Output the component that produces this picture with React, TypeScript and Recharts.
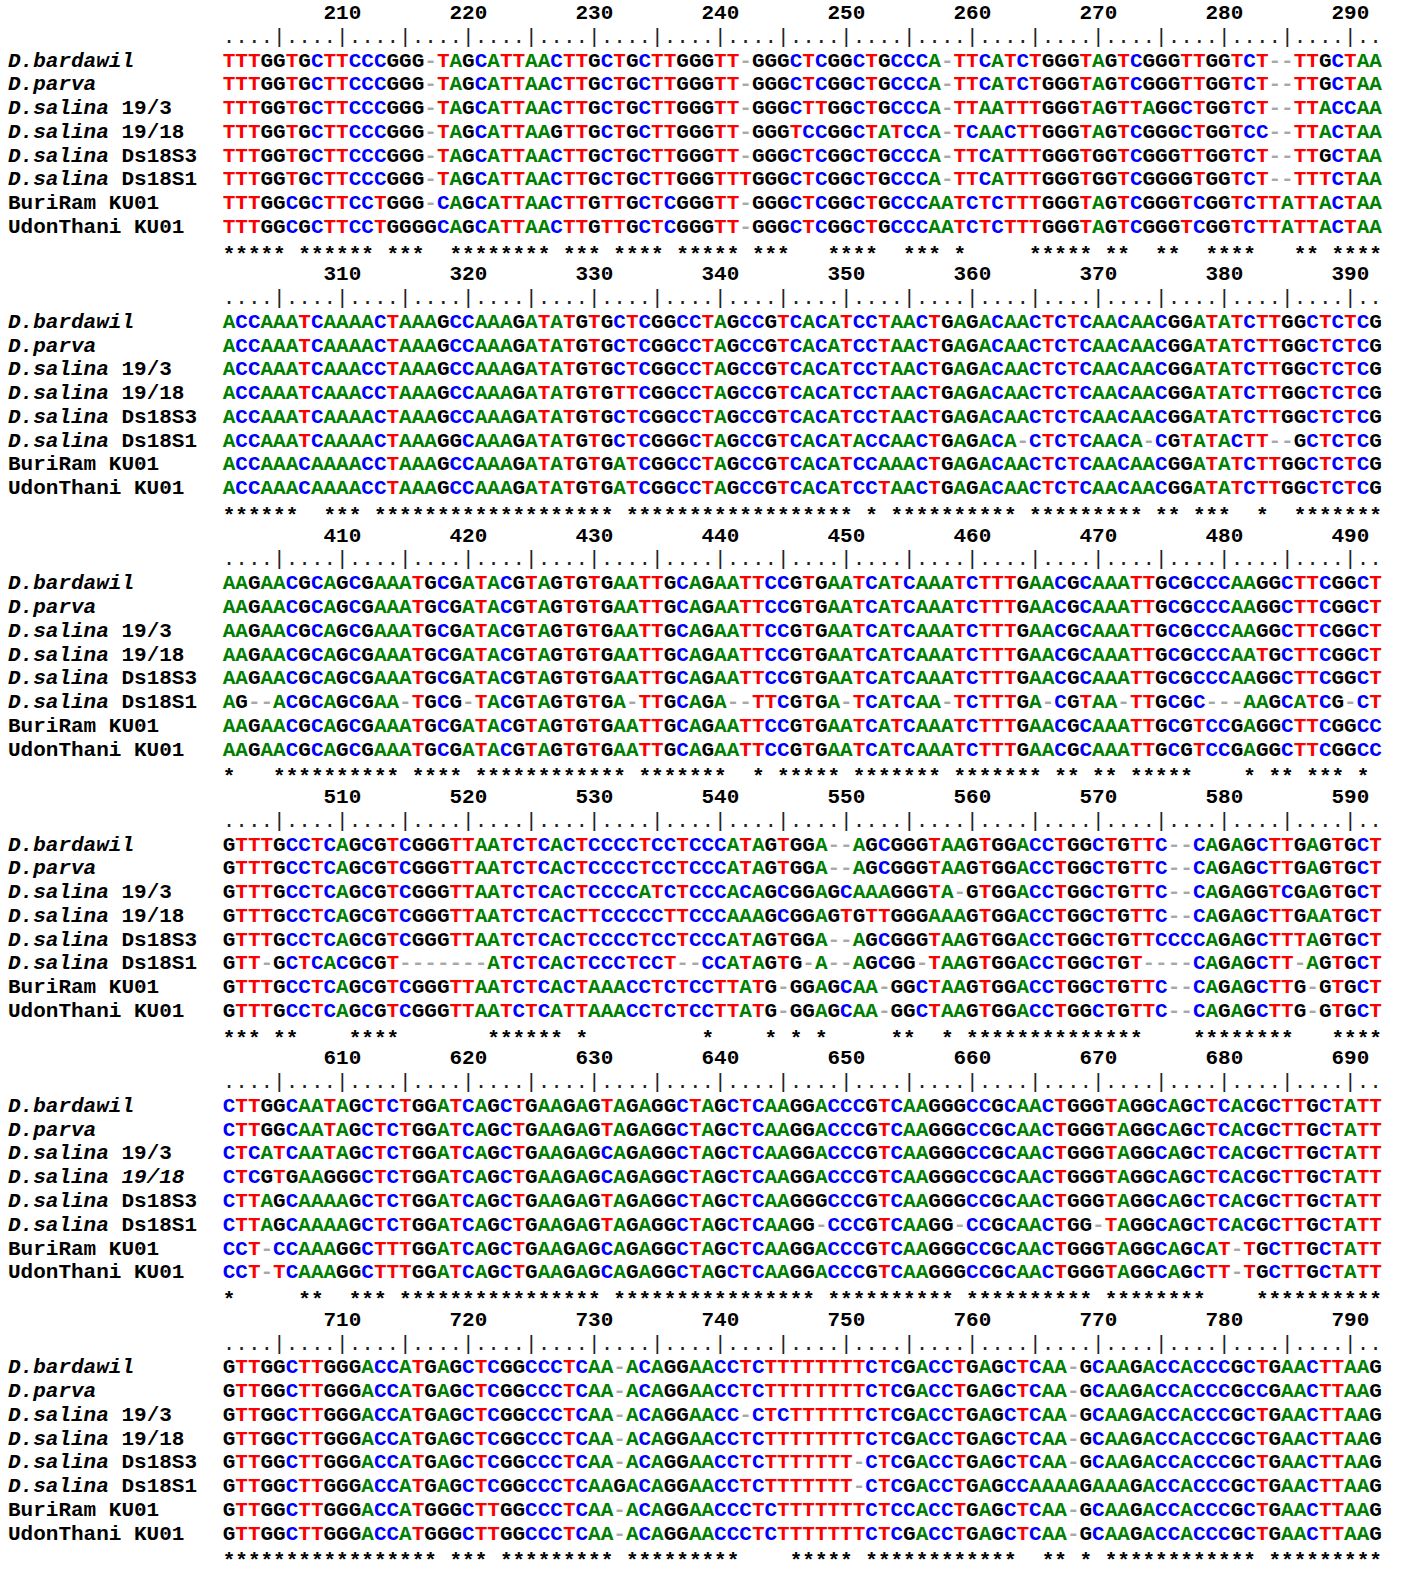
import React from "react";
import { ScatterChart, Scatter, XAxis, YAxis } from "recharts";

// ---------- data ----------
const SPECIES = [
  "D.bardawil",
  "D.parva",
  "D.salina 19/3",
  "D.salina 19/18",
  "D.salina Ds18S3",
  "D.salina Ds18S1",
  "BuriRam KU01",
  "UdonThani KU01",
];
// number of leading characters of each label drawn in italics
const ITALIC_CHARS = [10, 7, 8, 8, 8, 8, 0, 0];
// [block, row] labels drawn fully in italics
const FULL_ITALIC = [[4, 3]];

const BLOCK_OFFSETS = [200, 300, 400, 500, 600, 700];
const TICK_COLUMNS = [10, 20, 30, 40, 50, 60, 70, 80, 90];
const RULER =
  "....|....|....|....|....|....|....|....|....|....|....|....|....|....|....|....|....|....|..";

const BLOCK_201 = [
  "TTTGGTGCTTCCCGGG-TAGCATTAACTTGCTGCTTGGGTT-GGGC" + "TCGGCTGCCCA-TTCATCTGGGTAGTCGGGTTGGTCT--TTGCTAA",
  "TTTGGTGCTTCCCGGG-TAGCATTAACTTGCTGCTTGGGTT-GGGC" + "TCGGCTGCCCA-TTCATCTGGGTAGTCGGGTTGGTCT--TTGCTAA",
  "TTTGGTGCTTCCCGGG-TAGCATTAACTTGCTGCTTGGGTT-GGGC" + "TTGGCTGCCCA-TTAATTTGGGTAGTTAGGCTGGTCT--TTACCAA",
  "TTTGGTGCTTCCCGGG-TAGCATTAAGTTGCTGCTTGGGTT-GGGT" + "CCGGCTATCCA-TCAACTTGGGTAGTCGGGCTGGTCC--TTACTAA",
  "TTTGGTGCTTCCCGGG-TAGCATTAACTTGCTGCTTGGGTT-GGGC" + "TCGGCTGCCCA-TTCATTTGGGTGGTCGGGTTGGTCT--TTGCTAA",
  "TTTGGTGCTTCCCGGG-TAGCATTAACTTGCTGCTTGGGTTTGGGC" + "TCGGCTGCCCA-TTCATTTGGGTGGTCGGGGTGGTCT--TTTCTAA",
  "TTTGGCGCTTCCTGGG-CAGCATTAACTTGTTGCTCGGGTT-GGGC" + "TCGGCTGCCCAATCTCTTTGGGTAGTCGGGTCGGTCTTATTACTAA",
  "TTTGGCGCTTCCTGGGGCAGCATTAACTTGTTGCTCGGGTT-GGGC" + "TCGGCTGCCCAATCTCTTTGGGTAGTCGGGTCGGTCTTATTACTAA",
];

const BLOCK_301 = [
  "ACCAAATCAAAACTAAAGCCAAAGATATGTGCTCGGCCTAGCCGTC" + "ACATCCTAACTGAGACAACTCTCAACAACGGATATCTTGGCTCTCG",
  "ACCAAATCAAAACTAAAGCCAAAGATATGTGCTCGGCCTAGCCGTC" + "ACATCCTAACTGAGACAACTCTCAACAACGGATATCTTGGCTCTCG",
  "ACCAAATCAAACCTAAAGCCAAAGATATGTGCTCGGCCTAGCCGTC" + "ACATCCTAACTGAGACAACTCTCAACAACGGATATCTTGGCTCTCG",
  "ACCAAATCAAACCTAAAGCCAAAGATATGTGTTCGGCCTAGCCGTC" + "ACATCCTAACTGAGACAACTCTCAACAACGGATATCTTGGCTCTCG",
  "ACCAAATCAAAACTAAAGCCAAAGATATGTGCTCGGCCTAGCCGTC" + "ACATCCTAACTGAGACAACTCTCAACAACGGATATCTTGGCTCTCG",
  "ACCAAATCAAAACTAAAGGCAAAGATATGTGCTCGGGCTAGCCGTC" + "ACATACCAACTGAGACA-CTCTCAACA-CGTATACTT--GCTCTCG",
  "ACCAAACAAAACCTAAAGCCAAAGATATGTGATCGGCCTAGCCGTC" + "ACATCCAAACTGAGACAACTCTCAACAACGGATATCTTGGCTCTCG",
  "ACCAAACAAAACCTAAAGCCAAAGATATGTGATCGGCCTAGCCGTC" + "ACATCCTAACTGAGACAACTCTCAACAACGGATATCTTGGCTCTCG",
];

const BLOCK_401 = [
  "AAGAACGCAGCGAAATGCGATACGTAGTGTGAATTGCAGAATTCCG" + "TGAATCATCAAATCTTTGAACGCAAATTGCGCCCAAGGCTTCGGCT",
  "AAGAACGCAGCGAAATGCGATACGTAGTGTGAATTGCAGAATTCCG" + "TGAATCATCAAATCTTTGAACGCAAATTGCGCCCAAGGCTTCGGCT",
  "AAGAACGCAGCGAAATGCGATACGTAGTGTGAATTGCAGAATTCCG" + "TGAATCATCAAATCTTTGAACGCAAATTGCGCCCAAGGCTTCGGCT",
  "AAGAACGCAGCGAAATGCGATACGTAGTGTGAATTGCAGAATTCCG" + "TGAATCATCAAATCTTTGAACGCAAATTGCGCCCAATGCTTCGGCT",
  "AAGAACGCAGCGAAATGCGATACGTAGTGTGAATTGCAGAATTCCG" + "TGAATCATCAAATCTTTGAACGCAAATTGCGCCCAAGGCTTCGGCT",
  "AG--ACGCAGCGAA-TGCG-TACGTAGTGTGA-TTGCAGA--TTCG" + "TGA-TCATCAA-TCTTTGA-CGTAA-TTGCGC---AAGCATCG-CT",
  "AAGAACGCAGCGAAATGCGATACGTAGTGTGAATTGCAGAATTCCG" + "TGAATCATCAAATCTTTGAACGCAAATTGCGTCCGAGGCTTCGGCC",
  "AAGAACGCAGCGAAATGCGATACGTAGTGTGAATTGCAGAATTCCG" + "TGAATCATCAAATCTTTGAACGCAAATTGCGTCCGAGGCTTCGGCC",
];

const BLOCK_501 = [
  "GTTTGCCTCAGCGTCGGGTTAATCTCACTCCCCTCCTCCCATAGTG" + "GA--AGCGGGTAAGTGGACCTGGCTGTTC--CAGAGCTTGAGTGCT",
  "GTTTGCCTCAGCGTCGGGTTAATCTCACTCCCCTCCTCCCATAGTG" + "GA--AGCGGGTAAGTGGACCTGGCTGTTC--CAGAGCTTGAGTGCT",
  "GTTTGCCTCAGCGTCGGGTTAATCTCACTCCCCATCTCCCACAGCG" + "GAGCAAAGGGTA-GTGGACCTGGCTGTTC--CAGAGGTCGAGTGCT",
  "GTTTGCCTCAGCGTCGGGTTAATCTCACTTCCCCCTTCCCAAAGCG" + "GAGTGTTGGGAAAGTGGACCTGGCTGTTC--CAGAGCTTGAATGCT",
  "GTTTGCCTCAGCGTCGGGTTAATCTCACTCCCCTCCTCCCATAGTG" + "GA--AGCGGGTAAGTGGACCTGGCTGTTCCCCAGAGCTTTAGTGCT",
  "GTT-GCTCACGCGT-------ATCTCACTCCCTCCT--CCATAGTG" + "-A--AGCGG-TAAGTGGACCTGGCTGT----CAGAGCTT-AGTGCT",
  "GTTTGCCTCAGCGTCGGGTTAATCTCACTAAACCTCTCCTTATG-G" + "GAGCAA-GGCTAAGTGGACCTGGCTGTTC--CAGAGCTTG-GTGCT",
  "GTTTGCCTCAGCGTCGGGTTAATCTCATTAAACCTCTCCTTATG-G" + "GAGCAA-GGCTAAGTGGACCTGGCTGTTC--CAGAGCTTG-GTGCT",
];

const BLOCK_601 = [
  "CTTGGCAATAGCTCTGGATCAGCTGAAGAGTAGAGGCTAGCTCAAG" + "GACCCGTCAAGGGCCGCAACTGGGTAGGCAGCTCACGCTTGCTATT",
  "CTTGGCAATAGCTCTGGATCAGCTGAAGAGTAGAGGCTAGCTCAAG" + "GACCCGTCAAGGGCCGCAACTGGGTAGGCAGCTCACGCTTGCTATT",
  "CTCATCAATAGCTCTGGATCAGCTGAAGAGCAGAGGCTAGCTCAAG" + "GACCCGTCAAGGGCCGCAACTGGGTAGGCAGCTCACGCTTGCTATT",
  "CTCGTGAAGGGCTCTGGATCAGCTGAAGAGCAGAGGCTAGCTCAAG" + "GACCCGTCAAGGGCCGCAACTGGGTAGGCAGCTCACGCTTGCTATT",
  "CTTAGCAAAAGCTCTGGATCAGCTGAAGAGTAGAGGCTAGCTCAAG" + "GGCCCGTCAAGGGCCGCAACTGGGTAGGCAGCTCACGCTTGCTATT",
  "CTTAGCAAAAGCTCTGGATCAGCTGAAGAGTAGAGGCTAGCTCAAG" + "G-CCCGTCAAGG-CCGCAACTGG-TAGGCAGCTCACGCTTGCTATT",
  "CCT-CCAAAGGCTTTGGATCAGCTGAAGAGCAGAGGCTAGCTCAAG" + "GACCCGTCAAGGGCCGCAACTGGGTAGGCAGCAT-TGCTTGCTATT",
  "CCT-TCAAAGGCTTTGGATCAGCTGAAGAGCAGAGGCTAGCTCAAG" + "GACCCGTCAAGGGCCGCAACTGGGTAGGCAGCTT-TGCTTGCTATT",
];

const BLOCK_701 = [
  "GTTGGCTTGGGACCATGAGCTCGGCCCTCAA-ACAGGAACCTCTTT" + "TTTTTCTCGACCTGAGCTCAA-GCAAGACCACCCGCTGAACTTAAG",
  "GTTGGCTTGGGACCATGAGCTCGGCCCTCAA-ACAGGAACCTCTTT" + "TTTTTCTCGACCTGAGCTCAA-GCAAGACCACCCGCCGAACTTAAG",
  "GTTGGCTTGGGACCATGAGCTCGGCCCTCAA-ACAGGAACC-CTCT" + "TTTTTCTCGACCTGAGCTCAA-GCAAGACCACCCGCTGAACTTAAG",
  "GTTGGCTTGGGACCATGAGCTCGGCCCTCAA-ACAGGAACCTCTTT" + "TTTTTCTCGACCTGAGCTCAA-GCAAGACCACCCGCTGAACTTAAG",
  "GTTGGCTTGGGACCATGAGCTCGGCCCTCAA-ACAGGAACCTCTTT" + "TTTT-CTCGACCTGAGCTCAA-GCAAGACCACCCGCTGAACTTAAG",
  "GTTGGCTTGGGACCATGAGCTCGGCCCTCAAGACAGGAACCTCTTT" + "TTTT-CTCGACCTGAGCCAAAAGAAAGACCACCCGCTGAACTTAAG",
  "GTTGGCTTGGGACCATGGGCTTGGCCCTCAA-ACAGGAACCCTCTT" + "TTTTTCTCCACCTGAGCTCAA-GCAAGACCACCCGCTGAACTTAAG",
  "GTTGGCTTGGGACCATGGGCTTGGCCCTCAA-ACAGGAACCCTCTT" + "TTTTTCTCGACCTGAGCTCAA-GCAAGACCACCCGCTGAACTTAAG",
];

const BLOCKS = [BLOCK_201, BLOCK_301, BLOCK_401, BLOCK_501, BLOCK_601, BLOCK_701];

// conserved-column ranges ("*") for each block, as [from, to] columns
const STARS_201 = [[1,5],[7,12],[14,16],[19,26],[28,30],[32,35],[37,41],[43,45],[49,52],[55,57],[59,59],[65,69],[71,72],[75,76],[79,82],[86,87],[89,92]];
const STARS_301 = [[1,6],[9,11],[13,31],[33,50],[52,52],[54,63],[65,73],[75,76],[78,80],[83,83],[86,92]];
const STARS_401 = [[1,1],[5,14],[16,19],[21,32],[34,40],[43,43],[45,49],[51,57],[59,65],[67,68],[70,71],[73,77],[82,82],[84,85],[87,89],[91,91]];
const STARS_501 = [[1,3],[5,6],[11,14],[22,27],[29,29],[39,39],[44,44],[46,46],[48,48],[54,55],[58,58],[60,73],[78,85],[89,92]];
const STARS_601 = [[1,1],[7,8],[11,13],[15,30],[32,47],[49,58],[60,69],[71,78],[83,92]];
const STARS_701 = [[1,17],[19,21],[23,31],[33,41],[46,50],[52,63],[66,67],[69,69],[71,82],[84,92]];
const STARS = [STARS_201, STARS_301, STARS_401, STARS_501, STARS_601, STARS_701];

// ---------- layout constants ----------
const W = 1405;
const H = 1575;
const LINES_PER_BLOCK = 11;
const TOTAL_LINES = LINES_PER_BLOCK * BLOCKS.length - 1; // 65
const FONT = "'Liberation Mono', 'DejaVu Sans Mono', monospace";
const FS = 21;
const DY = 7;

const BASE_COLORS: Record<string, string> = {
  A: "#008000",
  C: "#0000FF",
  G: "#000000",
  T: "#FF0000",
};

// ---------- build point tables ----------
type Glyph = { col: number; line: number; ch: string };

const baseData: Glyph[] = [];
const gapData: Glyph[] = [];
const rulerData: Glyph[] = [];
const numData: Glyph[] = [];
const starData: Glyph[] = [];
const nameLines: number[] = [];

BLOCKS.forEach((rows, b) => {
  const L = b * LINES_PER_BLOCK;
  TICK_COLUMNS.forEach((c) => numData.push({ col: c, line: L, ch: String(BLOCK_OFFSETS[b] + c) }));
  RULER.split("").forEach((ch, i) => rulerData.push({ col: i + 1, line: L + 1, ch }));
  rows.forEach((seq, r) => {
    nameLines.push(L + 2 + r);
    seq.split("").forEach((ch, i) => {
      const g = { col: i + 1, line: L + 2 + r, ch };
      if (ch === "-") gapData.push(g);
      else baseData.push(g);
    });
  });
  STARS[b].forEach(([a, z]) => {
    for (let c = a; c <= z; c++) starData.push({ col: c, line: L + 10, ch: "*" });
  });
});

// ---------- shapes ----------
const BaseShape = (p: any) => (
  <text x={p.cx} y={p.cy} dy={DY} textAnchor="middle" fontFamily={FONT} fontWeight="bold"
    fontSize={FS} fill={BASE_COLORS[p.payload.ch] || "#000"}>
    {p.payload.ch}
  </text>
);

const GapShape = (p: any) => (
  <text x={p.cx} y={p.cy} dy={DY} textAnchor="middle" fontFamily={FONT} fontWeight="bold"
    fontSize={FS} fill="#A8A8A8">
    -
  </text>
);

const RulerShape = (p: any) => (
  <text x={p.cx} y={p.cy} dy={DY} textAnchor="middle" fontFamily={FONT} fontWeight="normal"
    fontSize={FS} fill="#222">
    {p.payload.ch}
  </text>
);

const NumShape = (p: any) => (
  <text x={p.cx} y={p.cy} dy={DY} textAnchor="middle" fontFamily={FONT} fontWeight="bold"
    fontSize={FS} fill="#000">
    {p.payload.ch}
  </text>
);

const StarShape = (p: any) => (
  <text x={p.cx} y={p.cy} dy={DY + 4} textAnchor="middle" fontFamily={FONT} fontWeight="bold"
    fontSize={FS} fill="#000">
    *
  </text>
);

const NameTick = (p: any) => {
  const line = p.payload.value;
  const b = Math.floor(line / LINES_PER_BLOCK);
  const r = (line % LINES_PER_BLOCK) - 2;
  const name = SPECIES[r] || "";
  const full = FULL_ITALIC.some(([fb, fr]) => fb === b && fr === r);
  const n = full ? name.length : ITALIC_CHARS[r];
  return (
    <text x={8} y={p.y} dy={DY} textAnchor="start" fontFamily={FONT} fontWeight="bold"
      fontSize={FS} fill="#000" style={{ whiteSpace: "pre" }}>
      {n > 0 && <tspan fontStyle="italic">{name.slice(0, n)}</tspan>}
      {n < name.length && <tspan>{name.slice(n)}</tspan>}
    </text>
  );
};

export default function App() {
  return (
    <div style={{ position: "absolute", left: 0, top: 0, width: W, height: H, background: "#fff" }}>
      <ScatterChart width={W} height={H} margin={{ top: 12, right: 29.4, bottom: 18.6, left: 0 }}>
        <XAxis type="number" dataKey="col" domain={[1, 92]} hide />
        <YAxis
          type="number"
          dataKey="line"
          domain={[0, TOTAL_LINES]}
          reversed
          width={229}
          ticks={nameLines}
          interval={0}
          axisLine={false}
          tickLine={false}
          tick={<NameTick />}
        />
        <Scatter data={numData} shape={NumShape} isAnimationActive={false} />
        <Scatter data={rulerData} shape={RulerShape} isAnimationActive={false} />
        <Scatter data={baseData} shape={BaseShape} isAnimationActive={false} />
        <Scatter data={gapData} shape={GapShape} isAnimationActive={false} />
        <Scatter data={starData} shape={StarShape} isAnimationActive={false} />
      </ScatterChart>
    </div>
  );
}
